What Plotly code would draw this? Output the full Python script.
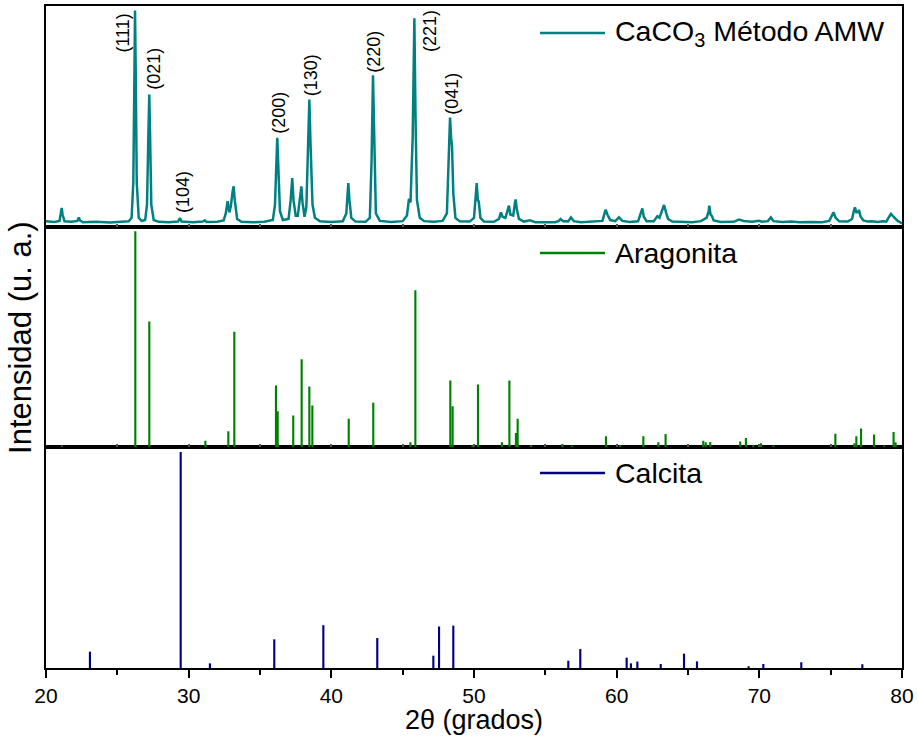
import plotly.graph_objects as go

# ---------------- data ----------------
# Measured pattern: CaCO3 Método AMW (2theta, intensity a.u.)
amw_2theta = [20.0, 20.6, 20.95, 21.05, 21.10, 21.16, 21.3, 21.8, 22.2, 22.3, 22.38, 22.6, 23.5, 24.5, 25.3, 25.8,
              26.0, 26.12, 26.2, 26.24, 26.29, 26.36, 26.5, 26.7, 26.95, 27.08, 27.17, 27.24, 27.30, 27.38, 27.55,
              27.9, 28.6, 29.25, 29.39, 29.5, 30.3, 31.0, 31.14, 31.25, 32.0, 32.45, 32.6, 32.73, 32.85, 32.95,
              33.08, 33.15, 33.23, 33.4, 33.7, 34.5, 35.3, 35.9, 36.05, 36.15, 36.21, 36.28, 36.4, 36.6, 37.0,
              37.15, 37.26, 37.35, 37.5, 37.65, 37.8, 37.90, 37.98, 38.12, 38.25, 38.37, 38.46, 38.54, 38.68,
              38.85, 39.2, 40.0, 40.8, 41.05, 41.13, 41.19, 41.27, 41.4, 41.7, 42.4, 42.7, 42.82, 42.92, 43.0,
              43.12, 43.4, 44.2, 45.0, 45.3, 45.44, 45.55, 45.70, 45.82, 45.90, 46.0, 46.2, 46.5, 47.2, 47.8,
              48.1, 48.24, 48.32, 48.40, 48.46, 48.55, 48.7, 49.0, 49.7, 50.0, 50.12, 50.19, 50.27, 50.33, 50.45,
              50.7, 51.4, 51.75, 51.89, 52.0, 52.2, 52.38, 52.45, 52.55, 52.75, 52.87, 52.92, 53.0, 53.15, 53.5,
              53.92, 54.3, 55.0, 55.7, 55.95, 56.07, 56.25, 56.6, 56.8, 57.0, 57.5, 58.3, 59.0, 59.15, 59.23,
              59.35, 59.55, 59.9, 60.16, 60.4, 60.9, 61.5, 61.7, 61.8, 61.9, 62.1, 62.6, 62.85, 63.0, 63.25,
              63.32, 63.46, 63.6, 63.9, 64.6, 65.3, 65.9, 66.12, 66.3, 66.45, 66.49, 66.58, 66.66, 66.8, 67.3,
              68.2, 68.57, 68.9, 69.5, 69.97, 70.2, 70.6, 70.81, 71.0, 71.6, 72.26, 72.8, 73.6, 74.4, 74.9,
              75.1, 75.2, 75.35, 75.6, 76.2, 76.5, 76.62, 76.7, 76.8, 76.92, 76.98, 77.1, 77.3, 77.6, 77.9,
              78.3, 78.64, 78.9, 79.1, 79.23, 79.4, 79.7, 80.0]
amw_int = [2.4, 2.1, 2.6, 6.0, 8.5, 5.5, 2.4, 2.2, 2.6, 4.2, 2.8, 2.0, 2.2, 1.9, 2.1, 2.4,
           4.0, 20, 70, 97.9, 70, 20, 4.0, 2.6, 3.0, 10, 40, 59.9, 40, 10, 3.0,
           2.2, 2.0, 2.3, 3.9, 2.3, 2.0, 2.3, 2.9, 2.1, 2.2, 2.8, 6, 11.5, 6.5, 9,
           16, 18.3, 12, 3.5, 2.2, 2.0, 2.2, 3.0, 10, 30, 40.3, 28, 7, 3.0, 3.5,
           12, 22.0, 12, 5, 5, 13, 18.3, 11, 4.5, 9, 40, 57.6, 38, 10,
           4, 2.4, 2.1, 2.4, 6, 14, 19.7, 12, 4, 2.3, 2.2, 4, 30, 68.6, 35,
           6, 2.6, 2.1, 2.5, 5, 12.6, 11, 40, 94.4, 50, 12, 4, 2.5, 2.2, 2.6,
           6, 35, 49.4, 40, 36.4, 15, 4, 2.4, 2.3, 4, 15, 19.7, 12, 11.5, 4,
           2.3, 2.2, 3.5, 6.5, 4.5, 4, 8.5, 9.5, 5.5, 5, 11, 12.3, 8, 3.5, 2.3,
           2.9, 2.0, 2.1, 2.0, 2.6, 3.5, 2.5, 2.4, 4.2, 2.5, 2.0, 2.2, 2.6, 6, 7.7,
           5.5, 3.0, 2.5, 4.2, 2.6, 2.1, 2.4, 6, 8.3, 4.5, 2.5, 2.5, 4.7, 4, 8,
           9.8, 6.5, 3.5, 2.3, 2.1, 2.0, 2.5, 3.5, 4, 7, 9.5, 5.5, 5.0, 2.8, 2.1,
           2.2, 3.2, 2.6, 2.2, 2.7, 2.2, 2.5, 4.2, 2.5, 2.1, 2.3, 2.0, 2.1, 2.0, 2.6,
           5, 6.5, 4, 2.4, 2.3, 3.5, 7, 8.8, 6.5, 6.5, 7.6, 4.5, 2.8, 2.3, 2.4,
           2.1, 2.4, 2.3, 4.5, 5.8, 4.5, 2.6, 1.5]

# Reference pattern: Aragonita (stick positions and relative intensities)
arag_2theta = [21.12, 26.26, 27.24, 31.17, 32.78, 33.20, 36.12, 36.24, 37.33, 37.92, 38.46, 38.67, 41.22,
               42.94, 45.54, 45.89, 48.34, 48.50, 49.88, 50.28, 51.96, 52.48, 52.94, 53.06, 54.0, 56.19,
               56.85, 59.25, 60.25, 61.87, 62.92, 63.43, 66.07, 66.24, 66.56, 68.66, 69.06, 69.58, 70.12,
               70.98, 75.33, 76.66, 76.80, 77.13, 78.04, 78.76, 79.41, 79.55]
arag_int = [0.8, 97.9, 57.0, 3.0, 7.3, 52.4, 28.0, 16.4, 14.4, 39.9, 27.6, 19.0, 12.9,
            20.2, 2.3, 71.2, 30.3, 18.6, 0.8, 28.5, 2.3, 30.3, 6.5, 13.0, 1.1, 1.5,
            0.6, 5.0, 1.1, 5.0, 2.3, 6.1, 3.0, 2.3, 2.4, 2.7, 4.2, 0.9, 1.9,
            0.8, 6.2, 1.9, 5.0, 8.5, 5.8, 0.8, 7.0, 2.3]

# Reference pattern: Calcita
calc_2theta = [23.08, 29.44, 31.49, 36.00, 39.44, 43.22, 47.15, 47.55, 48.55, 56.61, 57.45, 60.70, 61.00,
               61.45, 63.09, 64.72, 65.63, 69.25, 70.28, 72.94, 77.22]
calc_int = [7.4, 97.9, 2.1, 13.0, 19.4, 13.6, 5.6, 18.8, 19.2, 3.3, 8.6, 4.7, 2.1,
            2.9, 1.8, 6.5, 3.0, 0.8, 1.8, 2.6, 1.7]

# Miller indices labels of the measured pattern (label anchor in data units)
hkl_text = ["(111)", "(021)", "(104)", "(200)", "(130)", "(220)", "(221)", "(041)"]
hkl_x = [25.43, 27.60, 29.60, 36.33, 38.57, 43.02, 46.91, 48.46]
hkl_y = [87.7, 71.8, 15.7, 51.6, 68.6, 79.5, 88.6, 60.2]

series_names = ["CaCO<sub>3</sub> Método AMW", "Aragonita", "Calcita"]
x_ticks = [20, 30, 40, 50, 60, 70, 80]

# ---------------- styles ----------------
C_AMW = "#008080"
C_ARAG = "#008000"
C_CALC = "#000080"
FONT = "Liberation Sans, Arial, sans-serif"

fig = go.Figure()

fig.add_trace(go.Scatter(x=amw_2theta, y=amw_int, mode="lines",
                         line=dict(color=C_AMW, width=2.5), xaxis="x3", yaxis="y3",
                         showlegend=False, hoverinfo="x+y"))
fig.add_trace(go.Bar(x=arag_2theta, y=arag_int, width=0.15, marker=dict(color=C_ARAG, line=dict(width=0)),
                     xaxis="x2", yaxis="y2", showlegend=False))
fig.add_trace(go.Bar(x=calc_2theta, y=calc_int, width=0.15, marker=dict(color=C_CALC, line=dict(width=0)),
                     xaxis="x", yaxis="y", showlegend=False))

axis_line = dict(showline=True, linecolor="black", linewidth=2, mirror=True,
                 showgrid=False, zeroline=False, automargin=False)

fig.update_layout(
    width=918, height=742,
    margin=dict(l=46, r=16, t=6, b=74, autoexpand=False),
    paper_bgcolor="white", plot_bgcolor="white",
    font=dict(family=FONT, color="black"),
    xaxis=dict(**axis_line, anchor="y", range=[20, 80], tickvals=x_ticks,
               ticks="outside", ticklen=8, tickwidth=2, tickcolor="black",
               minor=dict(dtick=5, ticks="outside", ticklen=5, tickwidth=2, tickcolor="black"),
               tickfont=dict(size=21)),
    xaxis2=dict(**axis_line, anchor="y2", matches="x", range=[20, 80], showticklabels=False,
                ticks="inside", ticklen=3, tickwidth=1.5, tickcolor="#555", dtick=5, tick0=20),
    xaxis3=dict(**axis_line, anchor="y3", matches="x", range=[20, 80], showticklabels=False,
                ticks="inside", ticklen=3, tickwidth=1.5, tickcolor="#555", dtick=5, tick0=20),
    yaxis=dict(**axis_line, domain=[0, 1/3], range=[0, 100], showticklabels=False, ticks=""),
    yaxis2=dict(**axis_line, domain=[1/3, 2/3], range=[0, 100], showticklabels=False, ticks=""),
    yaxis3=dict(**axis_line, domain=[2/3, 1], range=[0, 100], showticklabels=False, ticks=""),
    showlegend=False,
)

# Miller index labels
for t, xv, yv in zip(hkl_text, hkl_x, hkl_y):
    fig.add_annotation(x=xv, y=yv, xref="x3", yref="y3", text=t, textangle=-90,
                       showarrow=False, xanchor="center", yanchor="middle",
                       font=dict(size=18, color="black"))

# Manual legends (line sample + text) in each panel
legend_colors = [C_AMW, C_ARAG, C_CALC]
legend_y = [0.9592, 0.6269, 0.2946]
for name, col, ly in zip(series_names, legend_colors, legend_y):
    fig.add_shape(type="line", xref="paper", yref="paper", x0=0.5771, x1=0.6530, y0=ly, y1=ly,
                  line=dict(color=col, width=2.5))
    fig.add_annotation(xref="paper", yref="paper", x=0.6624, y=ly, text=name, showarrow=False,
                       xanchor="left", yanchor="middle", font=dict(size=28.5, color="black"))

# Axis titles
fig.add_annotation(xref="paper", yref="paper", x=0.5, y=-0.0785, text="2θ (grados)",
                   showarrow=False, xanchor="center", yanchor="middle",
                   font=dict(size=27, color="black"))
fig.add_annotation(xref="paper", yref="paper", x=-0.0304, y=0.50, text="Intensidad (u. a.)",
                   textangle=-90, showarrow=False, xanchor="center", yanchor="middle",
                   font=dict(size=31, color="black"))

fig.write_html("out.html", config={"displayModeBar": False},
               post_script="document.body.style.margin='0';document.body.style.overflow='hidden';")
